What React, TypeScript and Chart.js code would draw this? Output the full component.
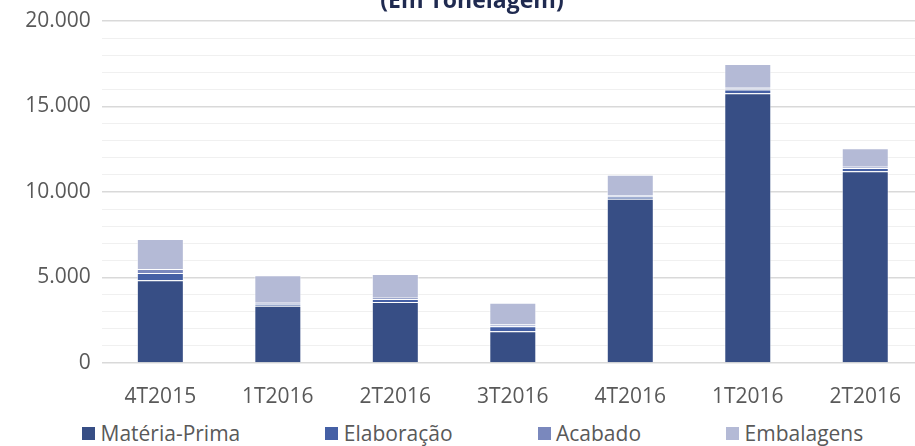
import React, { useEffect, useRef } from 'react';
import { Chart, registerables } from 'chart.js';

Chart.register(...registerables);

const titleText = '(Em Tonelagem)';
const categories = ['4T2015', '1T2016', '2T2016', '3T2016', '4T2016', '1T2016', '2T2016'];
const materiaPrima = [4840, 3350, 3560, 1850, 9600, 15780, 11220];
const elaboracao = [430, 120, 190, 300, 135, 215, 190];
const acabado = [230, 55, 60, 100, 80, 100, 60];
const embalagens = [1755, 1600, 1400, 1280, 1190, 1385, 1095];
const seriesNames = ['Matéria-Prima', 'Elaboração', 'Acabado', 'Embalagens'];
const seriesColors = ['#374E85', '#4560A5', '#7A88BD', '#B4BAD6'];
const yMin = 0;
const yMax = 20000;
const yMinorStep = 1000;
const yMajorStep = 5000;

const seriesValues = [materiaPrima, elaboracao, acabado, embalagens];

function fmt(v: number): string {
  return String(v).replace(/\B(?=(\d{3})+(?!\d))/g, '.');
}

const FONT = "'Open Sans', sans-serif";
const TEXT = '#595959';

export default function App() {
  const ref = useRef<HTMLCanvasElement>(null);

  useEffect(() => {
    const chart = new Chart(ref.current!, {
      type: 'bar',
      data: {
        labels: categories,
        datasets: seriesNames.map((name, i) => ({
          label: name,
          data: seriesValues[i],
          backgroundColor: seriesColors[i],
          borderColor: 'rgba(255,255,255,0.55)',
          borderWidth: 1,
          barPercentage: 0.4,
          categoryPercentage: 1,
        })),
      },
      options: {
        responsive: false,
        animation: false,
        devicePixelRatio: 1,
        layout: { padding: { left: 20, right: 0, top: 0, bottom: 0 } },
        plugins: {
          legend: { display: false },
          tooltip: { enabled: false },
          title: {
            display: true,
            text: titleText,
            color: '#1F2A50',
            font: { family: FONT, size: 23, weight: 'bold' },
            padding: { top: 1.2, bottom: 6.2 },
          },
        },
        scales: {
          x: {
            stacked: true,
            grid: { display: false },
            border: { display: false },
            ticks: {
              color: TEXT,
              font: { family: FONT, size: 21 },
              padding: 13,
              maxRotation: 0,
              autoSkip: false,
            },
            afterFit: (s: any) => {
              s.height = 40;
            },
          },
          y: {
            stacked: true,
            min: yMin,
            max: yMax,
            border: { display: false },
            grid: {
              drawTicks: false,
              color: (c: any) => (c.tick && c.tick.value % yMajorStep === 0 ? '#D9D9D9' : '#F0F0F0'),
              lineWidth: (c: any) => (c.tick && c.tick.value % yMajorStep === 0 ? 1.5 : 1),
            },
            ticks: {
              stepSize: yMinorStep,
              autoSkip: false,
              color: TEXT,
              font: { family: FONT, size: 21 },
              padding: 10.8,
              callback: (v: any) => (Number(v) % yMajorStep === 0 ? fmt(Number(v)) : ''),
            },
            afterFit: (s: any) => {
              s.width = 81.6;
            },
          },
        },
      },
    });
    return () => chart.destroy();
  }, []);

  return (
    <div
      style={{
        position: 'absolute',
        left: 0,
        top: 0,
        width: 915,
        height: 446,
        overflow: 'hidden',
        background: '#ffffff',
      }}
    >
      <canvas
        ref={ref}
        width={924}
        height={417}
        style={{ position: 'absolute', left: 0, top: -14, width: 924, height: 417 }}
      />
      <div
        style={{
          position: 'absolute',
          left: 0,
          top: 420,
          height: 26,
          display: 'flex',
          alignItems: 'center',
          paddingLeft: 82,
          gap: 85,
          fontFamily: FONT,
          fontSize: 21,
          lineHeight: '26px',
          color: TEXT,
          whiteSpace: 'nowrap',
        }}
      >
        {seriesNames.map((name, i) => (
          <div key={name} style={{ display: 'flex', alignItems: 'center' }}>
            <span
              style={{
                display: 'inline-block',
                width: 13,
                height: 13,
                background: seriesColors[i],
                marginRight: 5.5,
              }}
            />
            <span>{name}</span>
          </div>
        ))}
      </div>
    </div>
  );
}
